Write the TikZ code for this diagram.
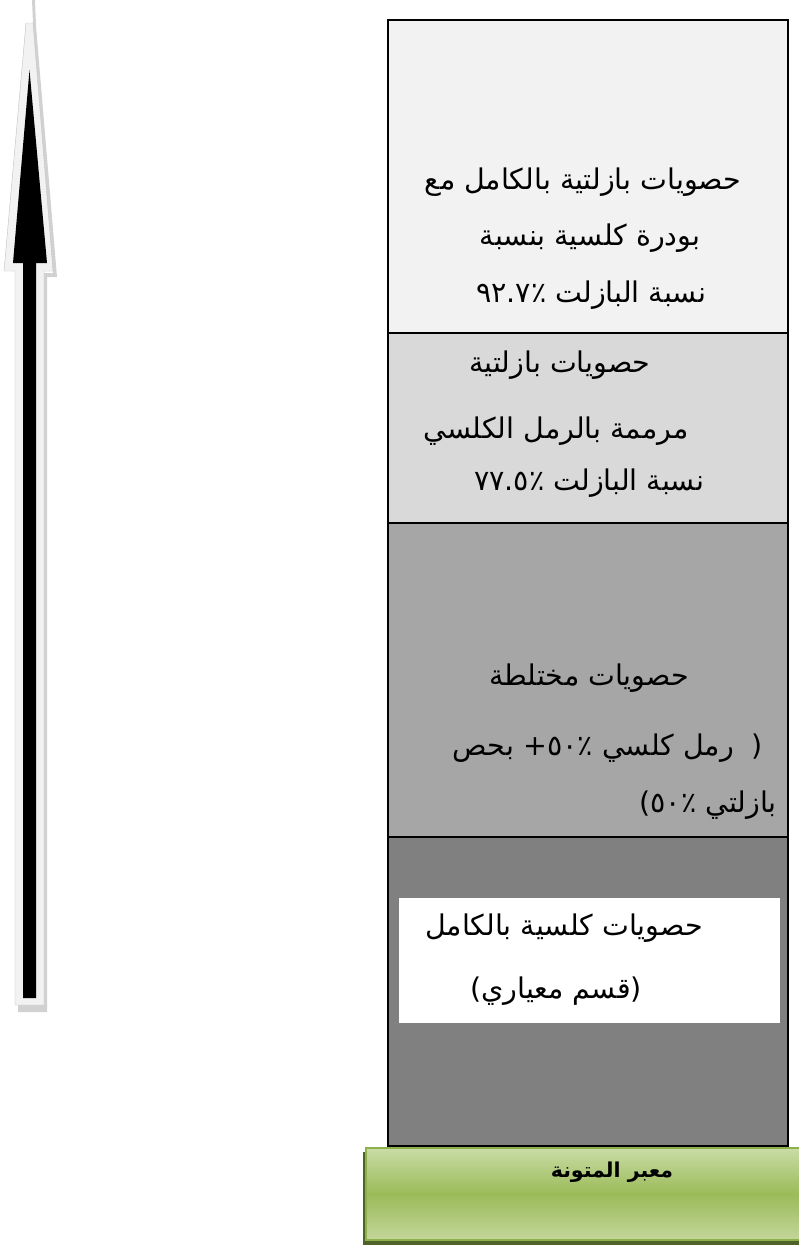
\documentclass[tikz,border=0pt]{standalone}
\usepackage{fontspec}
\newfontfamily\ar[Script=Arabic]{DejaVu Sans}
\newfontfamily\lat{DejaVu Sans}
\TeXXeTstate=1
\usetikzlibrary{shadings}
\definecolor{c1}{HTML}{F2F2F2}
\definecolor{c2}{HTML}{D9D9D9}
\definecolor{c3}{HTML}{A6A6A6}
\definecolor{c4}{HTML}{808080}
\definecolor{gtop}{HTML}{C9DCA6}
\definecolor{gmid}{HTML}{9BBB59}
\definecolor{gbot}{HTML}{C3D69B}
\definecolor{gedge}{HTML}{8EB04A}
\definecolor{gshadow}{HTML}{4F6228}
\tikzset{
  layer/.style={draw=black,line width=2.6pt},
  txt/.style={inner sep=0pt,font=\ar\fontsize{28.5}{32}\selectfont},
  gtxt/.style={inner sep=0pt,font=\ar\bfseries\fontsize{20.5}{24}\selectfont},
}
\begin{document}
\begin{tikzpicture}[x=1pt,y=-1pt]
\useasboundingbox (0,0) rectangle (798,1245);
% ---- arrow ----
\fill[gray!45,opacity=0.8] (32,0) -- (35,0) -- (36,26) -- (57,277) -- (47,277) -- (47,1012) -- (18,1012) -- (18,1005) -- (44,1005) -- (44,273) -- (53,273) -- (33,23) -- cycle;
\fill[c1,draw=gray!50,line width=0.4pt] (26,23) -- (33,23) -- (53,271) -- (44,271) -- (44,1005) -- (15,1005) -- (15,271) -- (4,271) -- cycle;
\fill[black] (29.5,70) -- (47,263) -- (36,263) -- (36,998) -- (23,998) -- (23,263) -- (13,263) -- cycle;
\coordinate (arrowtip) at (29.5,70);
% ---- layers ----
\path[layer,fill=c1] (388,20) rectangle (788,333);
\path[layer,fill=c2] (388,333) rectangle (788,523);
\path[layer,fill=c3] (388,523) rectangle (788,837);
\path[layer,fill=c4] (388,837) rectangle (788,1146);
\fill[white] (399,898) rectangle (780,1023);
% ---- texts ----
\node[txt] (a1) at (583,182) {\beginR حصويات بازلتية بالكامل مع\endR};
\node[txt] (a2) at (590,238) {\beginR بودرة كلسية بنسبة\endR};
\node[txt] (a3) at (591,295) {\beginR نسبة البازلت ٪\beginL٩٢.٧\endL\endR};
\node[txt] (b1) at (560,365) {\beginR حصويات بازلتية\endR};
\node[txt] (b2) at (556,431) {\beginR مرممة بالرمل الكلسي\endR};
\node[txt] (b3) at (589,483) {\beginR نسبة البازلت ٪\beginL٧٧.٥\endL\endR};
\node[txt] (m1) at (589,678) {\beginR حصويات مختلطة\endR};
\node[txt] (m2) at (608,748) {\beginR{\lat )}\ \ رمل كلسي ٪\beginL٥٠\endL+ بحص\endR};
\node[txt,anchor=east] (m3) at (777,805) {\beginR بازلتي ٪\beginL٥٠\endL{\lat (}\endR};
\node[txt] (d1) at (564,928) {\beginR حصويات كلسية بالكامل\endR};
\node[txt] (d2) at (556,991) {\beginR{\lat )}قسم معياري{\lat (}\endR};
% ---- green base ----
\fill[gshadow] (363,1152) rectangle (800,1245);
\shade[top color=gtop,bottom color=gbot,middle color=gmid] (366,1148) rectangle (800,1240);
\draw[gedge,line width=1.5pt] (800,1148) -- (366,1148) -- (366,1240) -- (800,1240);
\node[gtxt] (base) at (612,1172) {\beginR معبر المتونة\endR};
\end{tikzpicture}
\end{document}
